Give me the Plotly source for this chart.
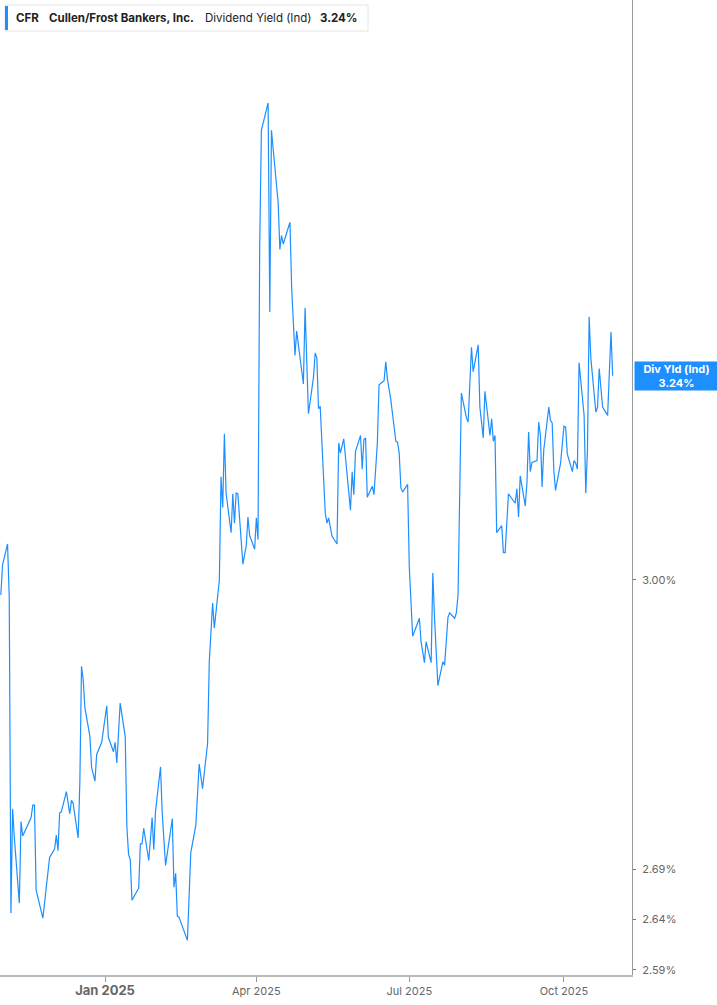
import math
import plotly.graph_objects as go

# Cullen/Frost (CFR) dividend yield (indicated), in percent
dates = [
    "2024-10-31", "2024-11-01", "2024-11-04", "2024-11-05", "2024-11-06", "2024-11-07",
    "2024-11-08", "2024-11-11", "2024-11-12", "2024-11-13", "2024-11-18", "2024-11-19",
    "2024-11-20", "2024-11-21", "2024-11-25", "2024-11-26", "2024-11-27", "2024-11-29",
    "2024-12-02", "2024-12-03", "2024-12-04", "2024-12-05", "2024-12-06", "2024-12-09",
    "2024-12-11", "2024-12-12", "2024-12-13", "2024-12-16", "2024-12-17", "2024-12-18",
    "2024-12-19", "2024-12-20", "2024-12-23", "2024-12-24", "2024-12-26", "2024-12-27",
    "2024-12-30", "2025-01-02", "2025-01-03", "2025-01-06", "2025-01-07", "2025-01-08",
    "2025-01-10", "2025-01-13", "2025-01-14", "2025-01-15", "2025-01-16", "2025-01-17",
    "2025-01-21", "2025-01-22", "2025-01-23", "2025-01-24", "2025-01-27", "2025-01-29",
    "2025-01-30", "2025-01-31", "2025-02-03", "2025-02-04", "2025-02-06", "2025-02-10",
    "2025-02-11", "2025-02-12", "2025-02-13", "2025-02-14", "2025-02-19", "2025-02-21",
    "2025-02-24", "2025-02-26", "2025-02-28", "2025-03-03", "2025-03-04", "2025-03-06",
    "2025-03-07", "2025-03-10", "2025-03-11", "2025-03-12", "2025-03-13", "2025-03-14",
    "2025-03-17", "2025-03-18", "2025-03-19", "2025-03-20", "2025-03-21", "2025-03-24",
    "2025-03-26", "2025-03-27", "2025-03-28", "2025-03-31", "2025-04-01", "2025-04-02",
    "2025-04-03", "2025-04-04", "2025-04-08", "2025-04-09", "2025-04-10", "2025-04-14",
    "2025-04-15", "2025-04-16", "2025-04-17", "2025-04-21", "2025-04-22", "2025-04-24",
    "2025-04-25", "2025-04-29", "2025-04-30", "2025-05-02", "2025-05-05", "2025-05-06",
    "2025-05-07", "2025-05-08", "2025-05-09", "2025-05-12", "2025-05-13", "2025-05-14",
    "2025-05-16", "2025-05-19", "2025-05-20", "2025-05-21", "2025-05-23", "2025-05-27",
    "2025-05-28", "2025-05-29", "2025-05-30", "2025-06-02", "2025-06-03", "2025-06-04",
    "2025-06-05", "2025-06-06", "2025-06-09", "2025-06-10", "2025-06-12", "2025-06-13",
    "2025-06-16", "2025-06-17", "2025-06-18", "2025-06-20", "2025-06-23", "2025-06-24",
    "2025-06-25", "2025-06-26", "2025-06-27", "2025-06-30", "2025-07-01", "2025-07-03",
    "2025-07-07", "2025-07-08", "2025-07-10", "2025-07-11", "2025-07-14", "2025-07-15",
    "2025-07-16", "2025-07-18", "2025-07-21", "2025-07-22", "2025-07-24", "2025-07-25",
    "2025-07-28", "2025-07-29", "2025-07-30", "2025-07-31", "2025-08-01", "2025-08-04",
    "2025-08-05", "2025-08-07", "2025-08-08", "2025-08-11", "2025-08-12", "2025-08-14",
    "2025-08-15", "2025-08-18", "2025-08-19", "2025-08-20", "2025-08-21", "2025-08-22",
    "2025-08-25", "2025-08-26", "2025-08-27", "2025-08-29", "2025-09-02", "2025-09-03",
    "2025-09-04", "2025-09-05", "2025-09-08", "2025-09-09", "2025-09-10", "2025-09-11",
    "2025-09-12", "2025-09-15", "2025-09-16", "2025-09-17", "2025-09-18", "2025-09-19",
    "2025-09-22", "2025-09-23", "2025-09-24", "2025-09-25", "2025-09-26", "2025-09-29",
    "2025-09-30", "2025-10-01", "2025-10-02", "2025-10-03", "2025-10-06", "2025-10-07",
    "2025-10-08", "2025-10-09", "2025-10-10", "2025-10-13", "2025-10-14", "2025-10-15",
    "2025-10-16", "2025-10-17", "2025-10-20", "2025-10-21", "2025-10-22", "2025-10-24",
    "2025-10-27", "2025-10-29", "2025-10-30",
]

div_yield = [
    2.983, 3.017, 3.041, 2.981, 2.646, 2.752,
    2.723, 2.656, 2.739, 2.724, 2.743, 2.756,
    2.756, 2.669, 2.641, 2.657, 2.667, 2.702,
    2.711, 2.725, 2.709, 2.748, 2.749, 2.770,
    2.747, 2.761, 2.758, 2.722, 2.779, 2.904,
    2.889, 2.859, 2.828, 2.795, 2.781, 2.809,
    2.822, 2.861, 2.827, 2.812, 2.822, 2.800,
    2.864, 2.828, 2.733, 2.705, 2.700, 2.659,
    2.671, 2.716, 2.716, 2.732, 2.699, 2.743,
    2.710, 2.749, 2.796, 2.748, 2.694, 2.742,
    2.672, 2.686, 2.643, 2.642, 2.619, 2.707,
    2.735, 2.799, 2.773, 2.821, 2.909, 2.974,
    2.946, 3.000, 3.119, 3.083, 3.170, 3.100,
    3.054, 3.099, 3.065, 3.100, 3.099, 3.018,
    3.039, 3.072, 3.051, 3.035, 3.071, 3.046,
    3.401, 3.554, 3.591, 3.319, 3.554, 3.458,
    3.398, 3.416, 3.405, 3.433, 3.350, 3.265,
    3.295, 3.230, 3.324, 3.194, 3.238, 3.268,
    3.262, 3.200, 3.203, 3.077, 3.065, 3.071,
    3.050, 3.041, 3.159, 3.147, 3.164, 3.080,
    3.125, 3.098, 3.149, 3.168, 3.128, 3.163,
    3.165, 3.095, 3.108, 3.098, 3.159, 3.229,
    3.234, 3.257, 3.236, 3.211, 3.161, 3.160,
    3.147, 3.106, 3.101, 3.110, 3.015, 2.937,
    2.957, 2.931, 2.908, 2.931, 2.908, 3.008,
    2.958, 2.883, 2.909, 2.905, 2.958, 2.963,
    2.957, 2.963, 2.983, 3.115, 3.219, 3.189,
    3.184, 3.275, 3.245, 3.278, 3.202, 3.165,
    3.221, 3.168, 3.188, 3.161, 3.168, 3.054,
    3.062, 3.031, 3.031, 3.099, 3.088, 3.105,
    3.072, 3.120, 3.085, 3.112, 3.172, 3.125,
    3.136, 3.138, 3.184, 3.168, 3.107, 3.151,
    3.202, 3.186, 3.183, 3.126, 3.103, 3.135,
    3.154, 3.179, 3.178, 3.146, 3.125, 3.138,
    3.135, 3.128, 3.256, 3.192, 3.100, 3.151,
    3.313, 3.262, 3.196, 3.202, 3.249, 3.202,
    3.192, 3.294, 3.240,
]

y_ticks = [2.59, 2.64, 2.69, 3.00]
y_tick_text = ["2.59%", "2.64%", "2.69%", "3.00%"]
x_ticks = ["2025-01-01", "2025-04-01", "2025-07-01", "2025-10-01"]
x_tick_text = ["<span style='font-size:13px'><b>Jan 2025</b></span>", "Apr 2025", "Jul 2025", "Oct 2025"]

last_val = div_yield[-1]
blue = "#1e8fff"

fig = go.Figure()
fig.add_trace(go.Scatter(x=dates, y=div_yield, mode="lines",
                         line=dict(color=blue, width=1.2), showlegend=False))

fig.update_xaxes(type="date", range=["2024-10-30 12:00", "2025-11-10 12:00"],
                 tickvals=x_ticks, ticktext=x_tick_text,
                 ticks="outside", ticklen=5, tickcolor="#999",
                 showline=True, linecolor="#bbbbbb", linewidth=2,
                 showgrid=False, zeroline=False,
                 tickfont=dict(size=11, color="#666"))

fig.update_yaxes(type="log", side="right",
                 range=[math.log10(2.585), math.log10(3.733)],
                 tickvals=y_ticks, ticktext=y_tick_text,
                 ticks="outside", ticklen=3, tickcolor="#777",
                 ticklabelstandoff=4,
                 showline=True, linecolor="#999", linewidth=1,
                 showgrid=False, zeroline=False,
                 tickfont=dict(size=11, color="#666"))

# header box top-left
W, H = 632, 975
fig.add_shape(type="rect", xref="paper", yref="paper",
              x0=5 / W, x1=368 / W, y0=1 - 31 / H, y1=1 - 5 / H,
              line=dict(color="#e4e4e4", width=1), fillcolor="white", layer="above")
fig.add_shape(type="rect", xref="paper", yref="paper",
              x0=5 / W, x1=8 / W, y0=1 - 30 / H, y1=1 - 6 / H,
              line=dict(width=0), fillcolor=blue, layer="above")

header = [(14, "<b>CFR</b>"), (47, "<b>Cullen/Frost Bankers, Inc.</b>"),
          (203, "Dividend Yield (Ind)"), (318, "<b>%.2f%%</b>" % last_val)]
for px, txt in header:
    fig.add_annotation(x=px / W, y=1 - 18 / H, xref="paper", yref="paper",
                       xanchor="left", yanchor="middle", text=txt, showarrow=False,
                       font=dict(size=11.5, color="#222"))

# last value label on the right axis
fig.add_annotation(x=1, y=math.log10(last_val), xref="paper", yref="y",
                   xanchor="left", yanchor="middle", xshift=2,
                   text="<b>Div Yld (Ind)</b><br><b>%.2f%%</b>" % last_val,
                   showarrow=False, bgcolor=blue, width=81, height=26, borderpad=1,
                   align="center", font=dict(size=11, color="white"))

fig.update_layout(width=717, height=1005,
                  margin=dict(l=0, r=85, t=0, b=30),
                  paper_bgcolor="white", plot_bgcolor="white",
                  font=dict(family="Inter, Roboto, sans-serif"))

# drop the browser's default 8px body margin so the figure sits at the window corner
fig.write_html("out.html", config={"displayModeBar": False},
               post_script="document.body.style.margin='0';")
